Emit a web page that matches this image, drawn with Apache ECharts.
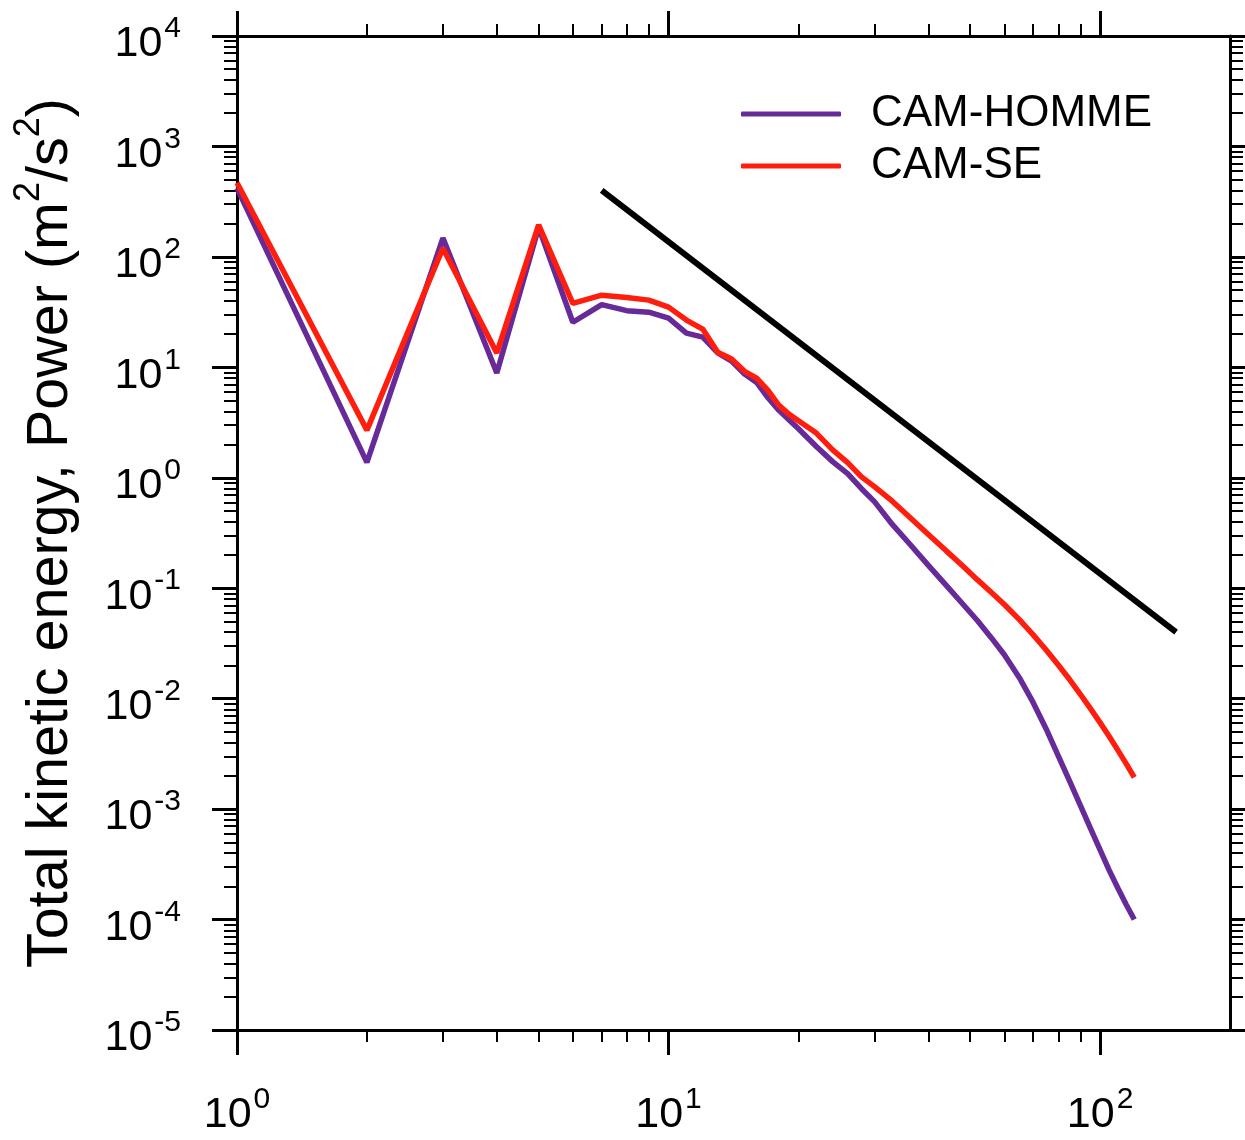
<!DOCTYPE html>
<html>
<head>
<meta charset="utf-8">
<script src="https://cdn.jsdelivr.net/npm/echarts@6/dist/echarts.min.js"></script>
<style>
  html, body { margin: 0; background: #fff; }
  #chart { width: 1245px; height: 1140px; }
</style>
</head>
<body>
<div id="chart"></div>
<script>
// wavenumbers
const wavenumber = [1, 2, 3, 4, 5, 6, 7, 8, 9, 10, 11, 12, 13, 14, 15, 16, 17, 18, 19, 20,
  22, 24, 26, 28, 30, 33, 36, 40, 44, 48, 52, 56, 60, 65, 70, 75, 80, 85, 90, 95, 100, 105, 110, 115, 120];
// CAM-HOMME power (m2/s2)
const hommePower = [420, 1.38, 148, 8.9, 185, 25.6, 37, 32.6, 31.6, 27.9, 20.4, 18.8, 13.5, 11.4, 8.7, 7.3, 5.3, 4.1, 3.36, 2.78,
  1.92, 1.40, 1.09, 0.796, 0.608, 0.378, 0.258, 0.161, 0.106, 0.0724, 0.0507, 0.0355, 0.0250, 0.0155, 0.0092,
  0.00532, 0.00304, 0.00179, 0.00108, 0.00067, 0.000428, 0.000279, 0.000192, 0.000136, 0.0001];
// CAM-SE power (m2/s2)
const sePower = [470, 2.7, 120, 13.5, 195, 38, 45, 42.8, 40.6, 35.1, 26.8, 22.2, 13.7, 11.9, 9.2, 8.0, 6.2, 4.55, 3.77, 3.28,
  2.54, 1.79, 1.37, 1.02, 0.832, 0.614, 0.449, 0.307, 0.218, 0.160, 0.119, 0.0916, 0.0713, 0.0519, 0.0378,
  0.0276, 0.0202, 0.0149, 0.01096, 0.00813, 0.00607, 0.00455, 0.00340, 0.00257, 0.00194];
// k^-3 reference line
const refK = [7, 150];
const refPower = [400, 0.04];

// ticks
const xMajor = [1, 10, 100];
const xMinor = [2, 3, 4, 5, 6, 7, 8, 9, 20, 30, 40, 50, 60, 70, 80, 90];
const yMajor = [1e-5, 1e-4, 1e-3, 1e-2, 1e-1, 1, 10, 100, 1000, 10000];
const yMinor = [];
for (let e = -5; e < 4; e++) {
  for (let m = 2; m <= 9; m++) yMinor.push(+(m * Math.pow(10, e)).toPrecision(3));
}

const FONT = 'Liberation Sans, Arial, sans-serif';
// "10" pushed down a little, exponent lifted with bottom padding
const richPow = {
  b: { fontSize: 43, lineHeight: 44, padding: [17, 0, 0, 0], fontFamily: FONT, color: '#000' },
  s: { fontSize: 30, lineHeight: 20, padding: [0, 0, 14, 2], fontFamily: FONT, color: '#000' }
};
function powLabel(v) {
  const e = Math.round(Math.log10(v));
  return '{b|10}{s|' + e + '}';
}

function axis(pos, min, max, ticks, len, width, line, label) {
  return {
    type: 'log',
    logBase: 10,
    position: pos,
    min: min,
    max: max,
    splitLine: { show: false },
    axisLine: { show: line, lineStyle: { color: '#000', width: 3 } },
    axisTick: { show: true, inside: false, length: len, customValues: ticks,
      lineStyle: { color: '#000', width: width } },
    axisLabel: label ? Object.assign({ customValues: ticks, formatter: powLabel, rich: richPow }, label)
                     : { show: false }
  };
}

const chart = echarts.init(document.getElementById('chart'));
const option = {
  animation: false,
  backgroundColor: '#fff',
  grid: { left: 237, right: 15, top: 36, bottom: 110, containLabel: false },
  legend: {
    data: ['CAM-HOMME', 'CAM-SE'],
    orient: 'vertical',
    left: 736,
    top: 87,
    itemWidth: 100,
    itemHeight: 5,
    itemGap: 8,
    icon: 'roundRect',
    textStyle: { fontSize: 44, color: '#000', fontFamily: FONT, padding: [0, 0, 0, 25] }
  },
  xAxis: [
    axis('bottom', 1, 200, xMajor, 25, 3, true, { margin: 55 }),
    axis('bottom', 1, 200, xMinor, 12, 2, false),
    axis('top', 1, 200, xMajor, 25, 3, true),
    axis('top', 1, 200, xMinor, 12, 2, false)
  ],
  yAxis: [
    Object.assign(axis('left', 1e-5, 1e4, yMajor, 25, 3, true, { margin: 56 }), {
      name: 'Total kinetic energy, Power (m{s|2}/s{s|2})',
      nameLocation: 'middle',
      nameGap: 157,
      nameRotate: 90,
      nameTextStyle: {
        fontSize: 57.5, color: '#000', fontFamily: FONT,
        rich: { s: { fontSize: 36, lineHeight: 20, padding: [0, 0, 44, 0], fontFamily: FONT, color: '#000' } }
      }
    }),
    axis('left', 1e-5, 1e4, yMinor, 13, 2, false),
    axis('right', 1e-5, 1e4, yMajor, 25, 3, true),
    axis('right', 1e-5, 1e4, yMinor, 13, 2, false)
  ],
  series: [
    {
      name: 'CAM-HOMME',
      type: 'line',
      xAxisIndex: 0, yAxisIndex: 0,
      symbol: 'none',
      lineStyle: { color: '#662a99', width: 5.5 },
      itemStyle: { color: '#662a99' },
      data: wavenumber.map((k, i) => [k, hommePower[i]])
    },
    {
      name: 'CAM-SE',
      type: 'line',
      xAxisIndex: 0, yAxisIndex: 0,
      symbol: 'none',
      lineStyle: { color: '#ff1e0e', width: 5.5 },
      itemStyle: { color: '#ff1e0e' },
      data: wavenumber.map((k, i) => [k, sePower[i]])
    },
    {
      name: 'k-3',
      type: 'line',
      xAxisIndex: 0, yAxisIndex: 0,
      symbol: 'none',
      lineStyle: { color: '#000', width: 6 },
      data: refK.map((k, i) => [k, refPower[i]])
    }
  ]
};
chart.setOption(option);
</script>
</body>
</html>
